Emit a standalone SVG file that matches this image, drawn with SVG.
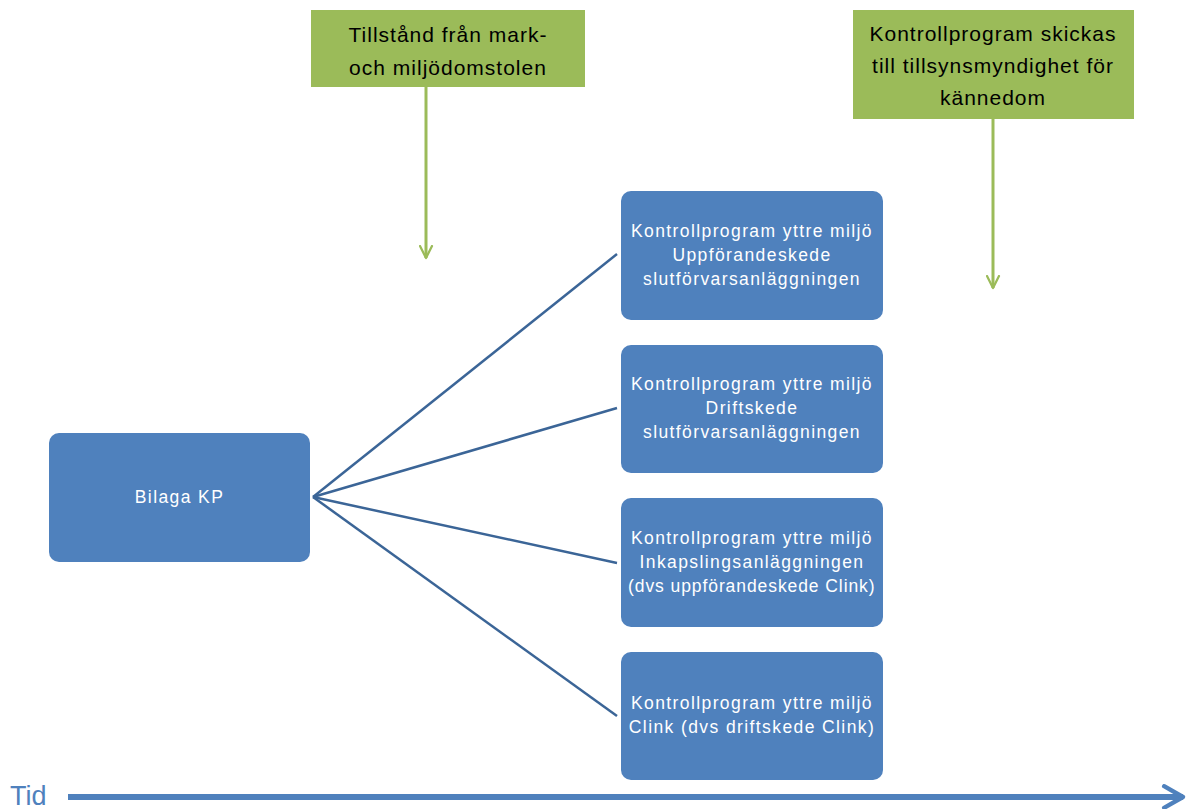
<svg xmlns="http://www.w3.org/2000/svg" width="1190" height="809" viewBox="0 0 1190 809">
<style>
.green{fill:#9BBB59}
.blue{fill:#4F81BD}
.gt{font-family:"Liberation Sans",Arial,sans-serif;font-size:21px;letter-spacing:1px;fill:#000;text-anchor:middle}
.bt{font-family:"Liberation Sans",Arial,sans-serif;font-size:17.5px;letter-spacing:1.4px;fill:#fff;text-anchor:middle}
.garr{stroke:#9BBB59;stroke-width:3;fill:none}
.conn{stroke:#3B6597;stroke-width:2.5;fill:none}
</style>
<defs>
<marker id="gh" viewBox="0 0 10 10" refX="9" refY="5" markerWidth="5" markerHeight="5" orient="auto" markerUnits="strokeWidth">
<path d="M1,1 L9,5 L1,9" stroke="#9BBB59" stroke-width="1.5" fill="none" stroke-linecap="round" stroke-linejoin="round"/>
</marker>
<marker id="bh" viewBox="0 0 10 10" refX="9" refY="5" markerWidth="4.5" markerHeight="4.5" orient="auto" markerUnits="strokeWidth">
<path d="M2,1 L9,5 L2,9" stroke="#4F81BD" stroke-width="1.6" fill="none" stroke-linecap="round" stroke-linejoin="round"/>
</marker>
</defs>
<rect width="1190" height="809" fill="#fff"/>
<g id="connectors">
<line class="conn" x1="313" y1="497" x2="617" y2="254"/>
<line class="conn" x1="313" y1="497" x2="617" y2="408"/>
<line class="conn" x1="313" y1="497" x2="617" y2="563"/>
<line class="conn" x1="313" y1="497" x2="617" y2="716"/>
<line class="garr" x1="426" y1="87" x2="426" y2="258" marker-end="url(#gh)"/>
<line class="garr" x1="993" y1="119" x2="993" y2="288" marker-end="url(#gh)"/>
<line x1="68" y1="797" x2="1183" y2="797" stroke="#4F81BD" stroke-width="6" marker-end="url(#bh)"/>
</g>
<g id="n-tillstand">
<rect class="green" x="311" y="10" width="274" height="77"/>
<text class="gt" x="448" y="42">Tillstånd från mark-</text>
<text class="gt" x="448" y="75">och miljödomstolen</text>
</g>
<g id="n-skickas">
<rect class="green" x="853" y="10" width="281" height="109"/>
<text class="gt" x="993" y="41">Kontrollprogram skickas</text>
<text class="gt" x="993" y="73">till tillsynsmyndighet för</text>
<text class="gt" x="993" y="105">kännedom</text>
</g>
<g id="n-bilaga">
<rect class="blue" x="49" y="433" width="261" height="129" rx="10"/>
<text class="bt" x="179.5" y="503">Bilaga KP</text>
</g>
<g id="n-kp1">
<rect class="blue" x="621" y="191" width="262" height="129" rx="10"/>
<text class="bt" x="752" y="237">Kontrollprogram yttre miljö</text>
<text class="bt" x="752" y="261">Uppförandeskede</text>
<text class="bt" x="752" y="285">slutförvarsanläggningen</text>
</g>
<g id="n-kp2">
<rect class="blue" x="621" y="345" width="262" height="128" rx="10"/>
<text class="bt" x="752" y="390">Kontrollprogram yttre miljö</text>
<text class="bt" x="752" y="414">Driftskede</text>
<text class="bt" x="752" y="438">slutförvarsanläggningen</text>
</g>
<g id="n-kp3">
<rect class="blue" x="621" y="498" width="262" height="129" rx="10"/>
<text class="bt" x="752" y="544">Kontrollprogram yttre miljö</text>
<text class="bt" x="752" y="568">Inkapslingsanläggningen</text>
<text class="bt" x="752" y="592" textLength="248" lengthAdjust="spacing">(dvs uppförandeskede Clink)</text>
</g>
<g id="n-kp4">
<rect class="blue" x="621" y="652" width="262" height="128" rx="10"/>
<text class="bt" x="752" y="709">Kontrollprogram yttre miljö</text>
<text class="bt" x="752" y="733">Clink (dvs driftskede Clink)</text>
</g>
<text x="10" y="805" font-family="Liberation Sans,Arial,sans-serif" font-size="27" fill="#4F81BD">Tid</text>
</svg>
